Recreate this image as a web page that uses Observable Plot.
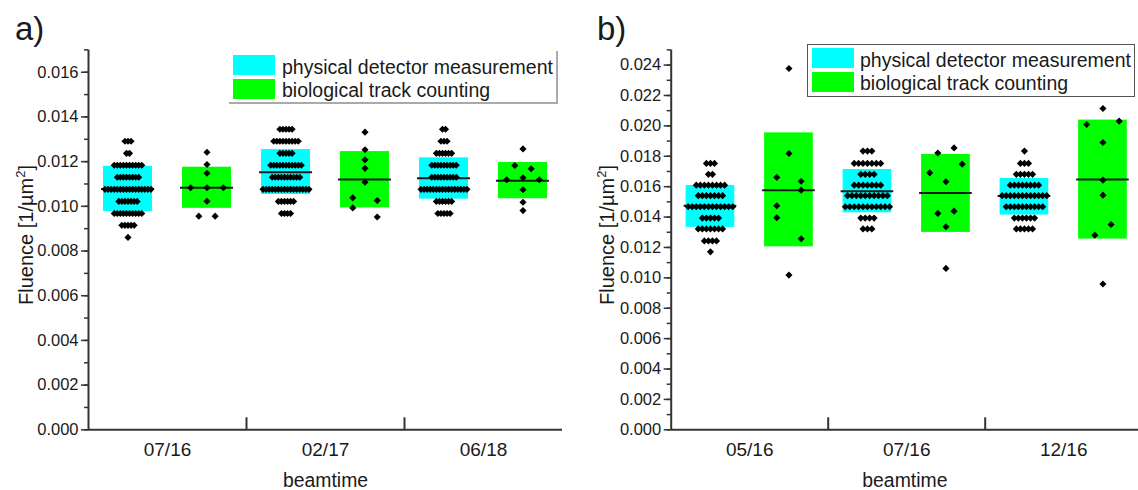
<!DOCTYPE html>
<html><head><meta charset="utf-8">
<script src="https://cdn.jsdelivr.net/npm/d3@7"></script>
<script src="https://cdn.jsdelivr.net/npm/@observablehq/plot@0.6"></script>
<style>
html,body{margin:0;padding:0;background:#fff;}
#wrap{position:relative;width:1138px;height:490px;overflow:hidden;font-family:"Liberation Sans",Arial,sans-serif;color:#1a1a1a;}
.panel{position:absolute;top:0;}
.plabel{position:absolute;font-size:33px;line-height:33px;color:#1a1a1a;}
.legend{position:absolute;box-sizing:border-box;}
.sw{position:absolute;width:42px;height:20px;}
.lt{position:absolute;font-size:19.5px;line-height:20px;white-space:nowrap;color:#1a1a1a;}
.ylab{position:absolute;font-size:20px;line-height:20px;white-space:nowrap;color:#1a1a1a;transform:translate(-50%,-50%) rotate(-90deg);}
.ylab sup{font-size:13px;line-height:0;vertical-align:0;position:relative;top:-8px;}
</style></head><body><div id="wrap"></div>
<script>
// ---------- data ----------
const categoriesA = ["07/16", "02/17", "06/18"];
const categoriesB = ["05/16", "07/16", "12/16"];
const seriesNames = ["physical detector measurement", "biological track counting"];
const seriesColors = ["#00ffff", "#00ff00"];
const yTicksA = [0, 0.002, 0.004, 0.006, 0.008, 0.010, 0.012, 0.014, 0.016];
const yTicksB = [0, 0.002, 0.004, 0.006, 0.008, 0.010, 0.012, 0.014, 0.016, 0.018, 0.020, 0.022, 0.024];

// panel a) physical detector measurement (fluence values, 1/µm²)
const physA_0716 = [0.01291,0.01291,0.01291, 0.01237,0.01237,
  0.01184,0.01184,0.01184,0.01184,0.01184,0.01184,0.01184,0.01184,0.01184,0.01184,
  0.01130,0.01130,0.01130,0.01130,0.01130,0.01130,0.01130,0.01130,
  0.01076,0.01076,0.01076,0.01076,0.01076,0.01076,0.01076,0.01076,0.01076,0.01076,0.01076,0.01076,0.01076,0.01076,0.01076,0.01076,
  0.01022,0.01022,0.01022,0.01022,0.01022,0.01022,0.01022,
  0.00968,0.00968,0.00968,0.00968,0.00968,0.00968,0.00968,0.00968,0.00968,0.00968,
  0.00915,0.00915,0.00915,0.00915,0.00915, 0.00861];
const physA_0217 = [0.01345,0.01345,0.01345,0.01345,0.01345,
  0.01291,0.01291,0.01291,0.01291,0.01291,0.01291,0.01291,0.01291,0.01291,
  0.01237,0.01237,0.01237,0.01237,0.01237,
  0.01184,0.01184,0.01184,0.01184,0.01184,0.01184,0.01184,0.01184,0.01184,0.01184,0.01184,
  0.01130,0.01130,0.01130,0.01130,0.01130,0.01130,0.01130,0.01130,0.01130,0.01130,
  0.01076,0.01076,0.01076,0.01076,0.01076,0.01076,0.01076,0.01076,0.01076,0.01076,0.01076,0.01076,0.01076,0.01076,0.01076,0.01076,
  0.01022,0.01022,0.01022,0.01022,0.01022,0.01022,
  0.00968,0.00968,0.00968,0.00968];
const physA_0618 = [0.01345,0.01345, 0.01291,0.01291,0.01291,
  0.01237,0.01237,0.01237,0.01237,0.01237,0.01237,
  0.01184,0.01184,0.01184,0.01184,0.01184,0.01184,0.01184,0.01184,0.01184,
  0.01130,0.01130,0.01130,0.01130,0.01130,0.01130,0.01130,0.01130,0.01130,
  0.01076,0.01076,0.01076,0.01076,0.01076,0.01076,0.01076,0.01076,0.01076,0.01076,0.01076,0.01076,0.01076,0.01076,0.01076,0.01076,
  0.01022,0.01022,0.01022,0.01022,0.01022,0.01022,
  0.00968,0.00968,0.00968,0.00968,0.00968];
// panel a) biological track counting
const bioA_0716 = [0.01242, 0.01187, 0.01148, 0.01083, 0.01083, 0.01083, 0.01023, 0.00956, 0.00956];
const bioA_0217 = [0.01332, 0.01253, 0.01208, 0.01170, 0.01108, 0.01038, 0.01026, 0.00993, 0.00952];
const bioA_0618 = [0.01257, 0.01183, 0.01168, 0.01119, 0.01128, 0.01119, 0.01074, 0.01018, 0.00981];

// panel b) physical detector measurement
const physB_0516 = [0.01753,0.01753,0.01753, 0.01681,0.01681,
  0.01610,0.01610,0.01610,0.01610,0.01610,0.01610,0.01610,0.01610,
  0.01541,0.01541,0.01541,0.01541,0.01541,0.01541,0.01541,
  0.01468,0.01468,0.01468,0.01468,0.01468,0.01468,0.01468,0.01468,0.01468,0.01468,0.01468,0.01468,
  0.01393,0.01393,0.01393,0.01393,0.01393,
  0.01322,0.01322,0.01322,0.01322,0.01322,0.01322,0.01322,
  0.01243,0.01243,0.01243,0.01243, 0.01171];
const physB_0716 = [0.01834,0.01834,0.01834,
  0.01753,0.01753,0.01753,0.01753,0.01753,0.01753,0.01753,
  0.01681,0.01681,0.01681,0.01681,
  0.01610,0.01610,0.01610,0.01610,0.01610,0.01610,0.01610,
  0.01541,0.01541,0.01541,0.01541,0.01541,0.01541,0.01541,0.01541,0.01541,0.01541,
  0.01468,0.01468,0.01468,0.01468,0.01468,0.01468,0.01468,0.01468,0.01468,0.01468,0.01468,
  0.01393,0.01393,0.01393,0.01393, 0.01322,0.01322,0.01322];
const physB_1216 = [0.01834, 0.01753,0.01753,0.01753,
  0.01681,0.01681,0.01681,0.01681,0.01681,
  0.01610,0.01610,0.01610,0.01610,0.01610,0.01610,0.01610,0.01610,
  0.01541,0.01541,0.01541,0.01541,0.01541,0.01541,0.01541,0.01541,0.01541,0.01541,0.01541,0.01541,
  0.01468,0.01468,0.01468,0.01468,0.01468,0.01468,0.01468,0.01468,0.01468,0.01468,
  0.01393,0.01393,0.01393,0.01393,0.01393,0.01393,
  0.01322,0.01322,0.01322,0.01322,0.01322];
// panel b) biological track counting
const bioB_0516 = [0.02378, 0.01818, 0.01661, 0.01636, 0.01474, 0.01577, 0.01395, 0.01257, 0.01018];
const bioB_0716 = [0.01822, 0.01855, 0.01691, 0.01632, 0.01748, 0.01424, 0.01439, 0.01336, 0.01062];
const bioB_1216 = [0.02009, 0.02114, 0.02031, 0.01891, 0.01643, 0.01544, 0.01281, 0.01351, 0.00959];

// box extents (mean ± s.d.) and mean lines, per beamtime
const physLowA  = [0.00977, 0.01053, 0.01032];
const physHighA = [0.01179, 0.01254, 0.01217];
const physMeanA = [0.01078, 0.01153, 0.01126];
const bioLowA   = [0.00991, 0.00993, 0.01034];
const bioHighA  = [0.01175, 0.01245, 0.01196];
const bioMeanA  = [0.01083, 0.01120, 0.01115];
const physLowB  = [0.01332, 0.01428, 0.01413];
const physHighB = [0.01608, 0.01713, 0.01654];
const physMeanB = [0.01474, 0.01570, 0.01538];
const bioLowB   = [0.01204, 0.01299, 0.01255];
const bioHighB  = [0.01954, 0.01812, 0.02038];
const bioMeanB  = [0.01577, 0.01559, 0.01647];

// ---------- layout helpers ----------
const BOX_W = 0.31;          // box width in group units
const OFFSETS = [0.25, 0.75]; // series centre inside a group

function swarm(values, center, binWidth) {
  const items = values.map((v, k) => ({v, k}));
  const bins = d3.group(items, d => Math.floor(d.v / binWidth + 1e-9));
  const maxN = d3.max(Array.from(bins.values(), b => b.length));
  const step = BOX_W / maxN;
  const out = [];
  for (const b of bins.values()) b.forEach((d, j) => out.push({x: center + (j - (b.length - 1) / 2) * step, y: d.v}));
  return out;
}

function makePanel(cfg) {
  const boxes = [], dots = [], means = [];
  cfg.series.forEach((s, si) => {
    s.values.forEach((vals, gi) => {
      const c = gi + OFFSETS[si];
      boxes.push({x1: c - BOX_W / 2, x2: c + BOX_W / 2, y1: s.low[gi], y2: s.high[gi], fill: seriesColors[si]});
      means.push({x1: c - BOX_W / 2, x2: c + BOX_W / 2, y: s.mean[gi]});
      dots.push(...swarm(vals, c, s.bin));
    });
  });
  const minor = d3.range(0, cfg.yMax + 1e-9, 0.001);
  return Plot.plot({
    width: cfg.width, height: 490,
    marginLeft: cfg.marginLeft, marginRight: cfg.marginRight, marginTop: 49.4, marginBottom: 60.7,
    x: {domain: [0, cfg.xMax], axis: null},
    y: {domain: [0, cfg.yMax], axis: null},
    style: {fontFamily: '"Liberation Sans", Arial, sans-serif', color: "#1a1a1a", background: "white", overflow: "visible"},
    marks: [
      Plot.rect(boxes, {x1: "x1", x2: "x2", y1: "y1", y2: "y2", fill: "fill"}),
      Plot.ruleY(means, {x1: "x1", x2: "x2", y: "y", stroke: "#1a1a1a", strokeWidth: 2, insetLeft: -2, insetRight: -2}),
      Plot.dot(dots, {x: "x", y: "y", symbol: "diamond2", r: 3.2, fill: "#000", stroke: "none"}),
      Plot.axisY({ticks: minor, tickSize: 4, tickFormat: () => "", label: null, stroke: "#333", strokeWidth: 1.5}),
      Plot.axisY({ticks: cfg.yTicks, tickSize: 7, tickPadding: 3, tickFormat: d3.format(".3f"), fontSize: 16.5, label: null, stroke: "#333", strokeWidth: 1.5}),
      Plot.axisX({ticks: [0.5, 1.5, 2.5], tickSize: 0, tickPadding: 13, tickFormat: t => cfg.cats[Math.floor(t)], fontSize: 19, label: null}),
      Plot.axisX({ticks: [1, 2], tickSize: -12, tickFormat: () => "", label: null, stroke: "#333", strokeWidth: 2}),
      Plot.ruleX([0], {stroke: "#333", strokeWidth: 2}),
      Plot.ruleY([0], {stroke: "#333", strokeWidth: 2}),
      Plot.text(["beamtime"], {frameAnchor: "bottom", lineAnchor: "bottom", dy: 57.5, fontSize: 19.4})
    ]
  });
}

const wrap = document.getElementById("wrap");

const plotA = makePanel({
  width: 580, marginLeft: 88, marginRight: 18, xMax: 3, yMax: 0.017, yTicks: yTicksA, cats: categoriesA,
  series: [
    {values: [physA_0716, physA_0217, physA_0618], low: physLowA, high: physHighA, mean: physMeanA, bin: 0.0005},
    {values: [bioA_0716, bioA_0217, bioA_0618], low: bioLowA, high: bioHighA, mean: bioMeanA, bin: 0.0005}
  ]
});
plotA.classList.add("panel"); plotA.style.left = "0px";
wrap.appendChild(plotA);

const plotB = makePanel({
  width: 558, marginLeft: 90.7, marginRight: 0, xMax: (558 - 90.7) / 157, yMax: 0.025, yTicks: yTicksB, cats: categoriesB,
  series: [
    {values: [physB_0516, physB_0716, physB_1216], low: physLowB, high: physHighB, mean: physMeanB, bin: 0.0002},
    {values: [bioB_0516, bioB_0716, bioB_1216], low: bioLowB, high: bioHighB, mean: bioMeanB, bin: 0.002}
  ]
});
plotB.classList.add("panel"); plotB.style.left = "580px";
wrap.appendChild(plotB);

// panel labels
function addLabel(txt, left, top) {
  const d = document.createElement("div");
  d.className = "plabel"; d.textContent = txt;
  d.style.left = left + "px"; d.style.top = top + "px";
  wrap.appendChild(d);
}
addLabel("a)", 15, 12);
addLabel("b)", 597, 12);

// y-axis titles
function addYLabel(cx, cy) {
  const d = document.createElement("div");
  d.className = "ylab";
  d.innerHTML = "Fluence [1/µm<sup>2</sup>]";
  d.style.left = cx + "px"; d.style.top = cy + "px";
  wrap.appendChild(d);
}
addYLabel(26, 235);
addYLabel(607, 235);

// legends
function addLegend(box, border, sw, textLeft, textTops, rowTops) {
  const lg = document.createElement("div");
  lg.className = "legend";
  Object.assign(lg.style, {left: box[0] + "px", top: box[1] + "px", width: (box[2] - box[0]) + "px", height: (box[3] - box[1]) + "px"});
  Object.assign(lg.style, border);
  wrap.appendChild(lg);
  seriesNames.forEach((name, i) => {
    const s = document.createElement("div");
    s.className = "sw";
    Object.assign(s.style, {left: sw + "px", top: rowTops[i] + "px", background: seriesColors[i]});
    wrap.appendChild(s);
    const t = document.createElement("div");
    t.className = "lt"; t.textContent = name;
    Object.assign(t.style, {left: textLeft + "px", top: textTops[i] + "px"});
    wrap.appendChild(t);
  });
}
addLegend([229, 51, 558, 104], {borderRight: "2px solid #aaa", borderBottom: "2px solid #aaa"}, 233, 282, [56.5, 80], [55, 79]);
addLegend([807, 44, 1135, 97], {border: "1.5px solid #555"}, 812, 860, [50, 73.3], [48, 72]);
</script>
</body></html>
